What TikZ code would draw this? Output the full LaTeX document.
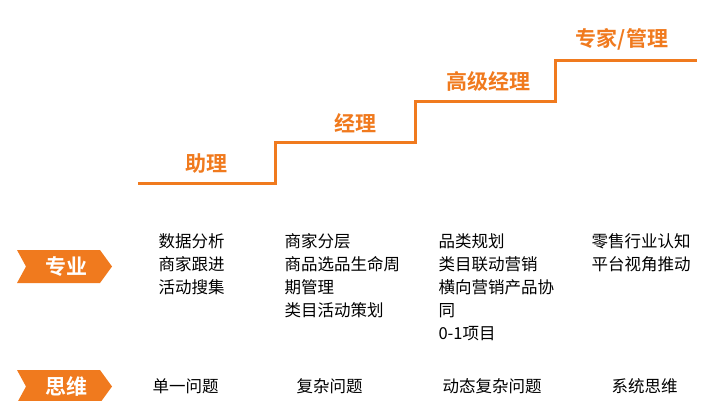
\documentclass[tikz,border=0pt]{standalone}
\usepackage{fontspec}
\setmainfont{Noto Sans CJK SC}[BoldFont={Noto Sans CJK SC Bold}]
\usetikzlibrary{positioning}
\definecolor{stairorange}{HTML}{F07A1E}
\tikzset{
  level/.style={text=stairorange, font=\fontsize{21}{24}\selectfont\bfseries, anchor=south},
  item/.style={anchor=north west, align=left, font=\fontsize{16.5}{23}\selectfont},
  tagtext/.style={text=white, font=\fontsize{21}{24}\selectfont\bfseries},
}
\begin{document}
\begin{tikzpicture}[x=1pt,y=-1pt]
\useasboundingbox (0,0) rectangle (722,400);

% staircase
\draw[stairorange, line width=3pt] (138,183) -- (275,183) -- (275,142) -- (415,142) -- (415,101) -- (555,101) -- (555,60) -- (697,60);
\node[level] (zhuli) at (206,177) {助理};
\node[level] (jingli) at (355,136) {经理};
\node[level] (gaoji) at (488,95) {高级经理};
\node[level] (zhuanjia) at (622,54) {专家/管理};

% tags
\foreach \y/\t/\n in {250/专业/zhuanye, 370/思维/siwei}{
  \fill[stairorange] (17,\y) -- (100,\y) -- (112,\y+16.5) -- (100,\y+33) -- (17,\y+33) -- (26,\y+16.5) -- cycle;
  \node[tagtext] (\n) at (66,\y+16.5) {\t};
}

% skills
\node[item] (c1) at (155,230) {数据分析\\商家跟进\\活动搜集};
\node[item] (c2) at (281,230) {商家分层\\商品选品生命周\\期管理\\类目活动策划};
\node[item] (c3) at (435,230) {品类规划\\类目联动营销\\横向营销产品协\\同\\0-1项目};
\node[item] (c4) at (588,230) {零售行业认知\\平台视角推动};

% thinking
\node[item] (t1) at (149,375) {单一问题};
\node[item] (t2) at (293,375) {复杂问题};
\node[item] (t3) at (439,375) {动态复杂问题};
\node[item] (t4) at (608,375) {系统思维};
\end{tikzpicture}
\end{document}
